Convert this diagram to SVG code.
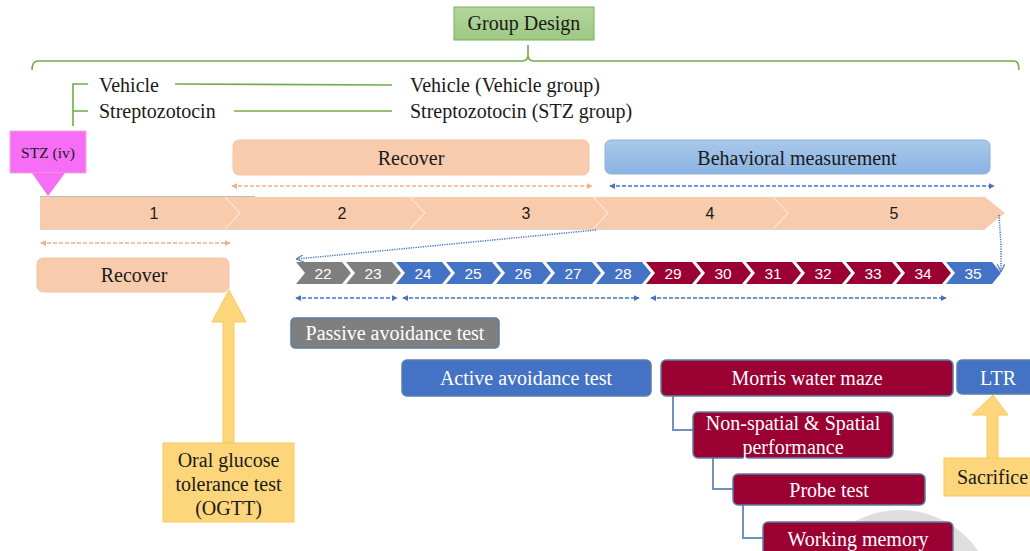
<svg xmlns="http://www.w3.org/2000/svg" width="1030" height="551" viewBox="0 0 1030 551">
<defs>
<style>
.serif{font-family:"Liberation Serif","Times New Roman",serif;font-size:20px;}
.sans{font-family:"Liberation Sans",Arial,sans-serif;}
.w{fill:#ffffff;}
.k{fill:#1a1a1a;}
.green{stroke:#70ad47;stroke-width:1.6;fill:none;}
.peach{fill:#f8cbad;}
.dashP{stroke:#f4b183;stroke-width:1.5;stroke-dasharray:4 2;fill:none;}
.dashB{stroke:#4472c4;stroke-width:1.5;stroke-dasharray:4 2;fill:none;}
.dotB{stroke:#4472c4;stroke-width:1.5;stroke-dasharray:1.2 1.2;fill:none;}
.conn{stroke:#6f8fbf;stroke-width:2;fill:none;}
.gray{fill:#7f7f7f;}
.blue{fill:#4472c4;}
.mar{fill:#9b0033;}
.num{font-family:"Liberation Sans",Arial,sans-serif;font-size:15.5px;fill:#ffffff;text-anchor:middle;}
</style>
<marker id="aP" viewBox="0 0 8 8" refX="7" refY="4" markerWidth="4" markerHeight="4" orient="auto-start-reverse"><path d="M0,0 L8,4 L0,8 z" fill="#f4b183"/></marker>
<marker id="aB" viewBox="0 0 8 8" refX="7" refY="4" markerWidth="4" markerHeight="4" orient="auto-start-reverse"><path d="M0,0 L8,4 L0,8 z" fill="#4472c4"/></marker>
<marker id="aO" viewBox="0 0 10 10" refX="9" refY="5" markerWidth="5" markerHeight="5" orient="auto"><path d="M0,0 L10,5 L0,10" fill="none" stroke="#4472c4" stroke-width="1.5"/></marker>
<linearGradient id="gBehav" x1="0" y1="0" x2="0" y2="1"><stop offset="0" stop-color="#a9c9ea"/><stop offset="1" stop-color="#8ab3e2"/></linearGradient>
<linearGradient id="gGreen" x1="0" y1="0" x2="0" y2="1"><stop offset="0" stop-color="#b5d69e"/><stop offset="1" stop-color="#9cc982"/></linearGradient>
</defs>
<rect width="1030" height="551" fill="#ffffff"/>

<circle cx="900" cy="605" r="95" fill="#dedede"/>

<g id="group-design">
<rect x="454" y="7" width="140" height="33" fill="url(#gGreen)" stroke="#7fae5f" stroke-width="1"/>
<text x="524" y="30" class="serif k" text-anchor="middle">Group Design</text>
</g>

<g id="bracket">
<path class="green" d="M32,70 Q32,61 38,61 L522,61 Q528,61 528,55 L528,45 M528,55 Q528,61 534,61 L1014,61 Q1019,61 1019,70"/>
<path class="green" d="M88,84 L73,84 L73,126 M73,111 L88,111"/>
</g>

<g id="groups">
<text x="99" y="92" class="serif k">Vehicle</text>
<text x="99" y="118" class="serif k">Streptozotocin</text>
<line x1="175" y1="84" x2="392" y2="85" class="green"/>
<line x1="234" y1="111" x2="392" y2="111" class="green"/>
<text x="410" y="92" class="serif k">Vehicle (Vehicle group)</text>
<text x="410" y="118" class="serif k">Streptozotocin (STZ group)</text>
</g>

<g id="stz-iv">
<rect x="10" y="131" width="76" height="42" fill="#f56ef5" stroke="#f9a7d9" stroke-width="1"/>
<polygon points="32,173 65,173 48,196" fill="#f56ef5"/>
<text x="48" y="158" class="serif k" style="font-size:15.5px" text-anchor="middle">STZ (iv)</text>
</g>

<g id="recover-top">
<rect x="233" y="140" width="356" height="35" rx="6" class="peach" stroke="#f4c4a6"/>
<text x="411" y="164.5" class="serif k" text-anchor="middle">Recover</text>
</g>

<g id="behavioral">
<rect x="605" y="140" width="385" height="34" rx="6" fill="url(#gBehav)" stroke="#8fb0d8"/>
<text x="797" y="164.5" class="serif k" text-anchor="middle">Behavioral measurement</text>
</g>

<g id="timeline">
<polygon points="40,197 985,197 1005,213 985,229 40,229" class="peach"/>
<line x1="40" y1="196.5" x2="255" y2="196.5" stroke="#bdbdbd" stroke-width="1"/>
<line x1="40" y1="229.5" x2="985" y2="229.5" stroke="#d8d8d8" stroke-width="1"/>
<g fill="none" stroke="#fde3d2" stroke-width="1.2">
<polyline points="225,197 240,213 225,229"/>
<polyline points="410,197 425,213 410,229"/>
<polyline points="593,197 608,213 593,229"/>
<polyline points="773,197 788,213 773,229"/>
</g>
<g class="sans k" font-size="16" text-anchor="middle">
<text x="154" y="219">1</text>
<text x="342" y="219">2</text>
<text x="526" y="219">3</text>
<text x="710" y="219">4</text>
<text x="894" y="219">5</text>
</g>
</g>

<g id="recover-bottom">
<rect x="37" y="258" width="192" height="34" rx="6" class="peach" stroke="#f4c4a6"/>
<text x="134" y="282" class="serif k" text-anchor="middle">Recover</text>
</g>

<g id="days">
<g id="d22"><polygon points="296,262 342,262 351,273 342,284 296,284 305,273" class="gray"/><text x="323" y="278.5" class="num">22</text></g>
<g id="d23"><polygon points="346,262 392,262 401,273 392,284 346,284 355,273" class="gray"/><text x="373" y="278.5" class="num">23</text></g>
<g id="d24"><polygon points="396,262 442,262 451,273 442,284 396,284 405,273" class="blue"/><text x="423" y="278.5" class="num">24</text></g>
<g id="d25"><polygon points="446,262 492,262 501,273 492,284 446,284 455,273" class="blue"/><text x="473" y="278.5" class="num">25</text></g>
<g id="d26"><polygon points="496,262 542,262 551,273 542,284 496,284 505,273" class="blue"/><text x="523" y="278.5" class="num">26</text></g>
<g id="d27"><polygon points="546,262 592,262 601,273 592,284 546,284 555,273" class="blue"/><text x="573" y="278.5" class="num">27</text></g>
<g id="d28"><polygon points="596,262 642,262 651,273 642,284 596,284 605,273" class="blue"/><text x="623" y="278.5" class="num">28</text></g>
<g id="d29"><polygon points="646,262 692,262 701,273 692,284 646,284 655,273" class="mar"/><text x="673" y="278.5" class="num">29</text></g>
<g id="d30"><polygon points="696,262 742,262 751,273 742,284 696,284 705,273" class="mar"/><text x="723" y="278.5" class="num">30</text></g>
<g id="d31"><polygon points="746,262 792,262 801,273 792,284 746,284 755,273" class="mar"/><text x="773" y="278.5" class="num">31</text></g>
<g id="d32"><polygon points="796,262 842,262 851,273 842,284 796,284 805,273" class="mar"/><text x="823" y="278.5" class="num">32</text></g>
<g id="d33"><polygon points="846,262 892,262 901,273 892,284 846,284 855,273" class="mar"/><text x="873" y="278.5" class="num">33</text></g>
<g id="d34"><polygon points="896,262 942,262 951,273 942,284 896,284 905,273" class="mar"/><text x="923" y="278.5" class="num">34</text></g>
<g id="d35"><polygon points="946,262 992,262 1001,273 992,284 946,284 955,273" class="blue"/><text x="973" y="278.5" class="num">35</text></g>
</g>

<g id="connectors">
<line x1="232" y1="186" x2="592" y2="186" class="dashP" marker-start="url(#aP)" marker-end="url(#aP)"/>
<line x1="610" y1="186" x2="994" y2="186" class="dashB" marker-start="url(#aB)" marker-end="url(#aB)"/>
<line x1="41" y1="243" x2="230" y2="243" class="dashP" marker-start="url(#aP)" marker-end="url(#aP)"/>
<line x1="296" y1="298" x2="397" y2="298" class="dashB" marker-start="url(#aB)" marker-end="url(#aB)"/>
<line x1="403" y1="298" x2="639" y2="298" class="dashB" marker-start="url(#aB)" marker-end="url(#aB)"/>
<line x1="651" y1="298" x2="946" y2="298" class="dashB" marker-start="url(#aB)" marker-end="url(#aB)"/>
<line x1="596" y1="230" x2="297" y2="259" class="dotB" marker-end="url(#aO)"/>
<polyline points="999,215 1001,245 1001,271" class="dotB" marker-end="url(#aO)"/>
<path class="conn" d="M673,396 L673,430 L693,430"/>
<path class="conn" d="M713,458 L713,489 L733,489"/>
<path class="conn" d="M743,505 L743,538 L763,538"/>
<polygon points="223,443 223,322 212,322 229,290 246,322 234,322 234,443" fill="#fdd67c" stroke="#f9c85a" stroke-width="1"/>
<polygon points="987,458 987,415 972,415 993,395 1008,415 998,415 998,458" fill="#fdd67c" stroke="#f9c85a" stroke-width="1"/>
</g>

<g id="passive">
<rect x="291" y="318" width="208" height="30" rx="4" fill="#7f7f7f" stroke="#5b7fa6" stroke-width="1.5"/>
<text x="395" y="340" class="serif w" text-anchor="middle">Passive avoidance test</text>
</g>

<g id="active">
<rect x="402" y="360" width="249" height="36" rx="5" fill="#4472c4" stroke="#5b7fa6" stroke-width="1.5"/>
<text x="526" y="385" class="serif w" text-anchor="middle">Active avoidance test</text>
</g>

<g id="morris">
<rect x="661" y="360" width="292" height="36" rx="5" fill="#9b0033" stroke="#5b7fa6" stroke-width="1.5"/>
<text x="807" y="385" class="serif w" text-anchor="middle">Morris water maze</text>
</g>

<g id="ltr">
<rect x="957" y="360" width="80" height="34" rx="5" fill="#4472c4" stroke="#5b7fa6" stroke-width="1.5"/>
<text x="998" y="384.5" class="serif w" text-anchor="middle">LTR</text>
</g>

<g id="nonspatial">
<rect x="693" y="412" width="200" height="46" rx="5" fill="#9b0033" stroke="#5b7fa6" stroke-width="1.5"/>
<text x="793" y="430" class="serif w" text-anchor="middle">Non-spatial &amp; Spatial</text>
<text x="793" y="454" class="serif w" text-anchor="middle">performance</text>
</g>

<g id="probe">
<rect x="733" y="474" width="192" height="31" rx="5" fill="#9b0033" stroke="#5b7fa6" stroke-width="1.5"/>
<text x="829" y="496.5" class="serif w" text-anchor="middle">Probe test</text>
</g>

<g id="working">
<rect x="763" y="522" width="190" height="40" rx="5" fill="#9b0033" stroke="#5b7fa6" stroke-width="1.5"/>
<text x="858" y="546" class="serif w" text-anchor="middle">Working memory</text>
</g>

<g id="ogtt">
<rect x="163" y="443" width="131" height="79" fill="#fdd67c" stroke="#f9c85a" stroke-width="1"/>
<text x="228.5" y="467" class="serif k" text-anchor="middle">Oral glucose</text>
<text x="228.5" y="491" class="serif k" text-anchor="middle">tolerance test</text>
<text x="228.5" y="515" class="serif k" text-anchor="middle">(OGTT)</text>
</g>

<g id="sacrifice">
<rect x="944" y="458" width="95" height="38" fill="#fdd67c" stroke="#f9c85a" stroke-width="1"/>
<text x="957" y="484" class="serif k">Sacrifice</text>
</g>
</svg>
